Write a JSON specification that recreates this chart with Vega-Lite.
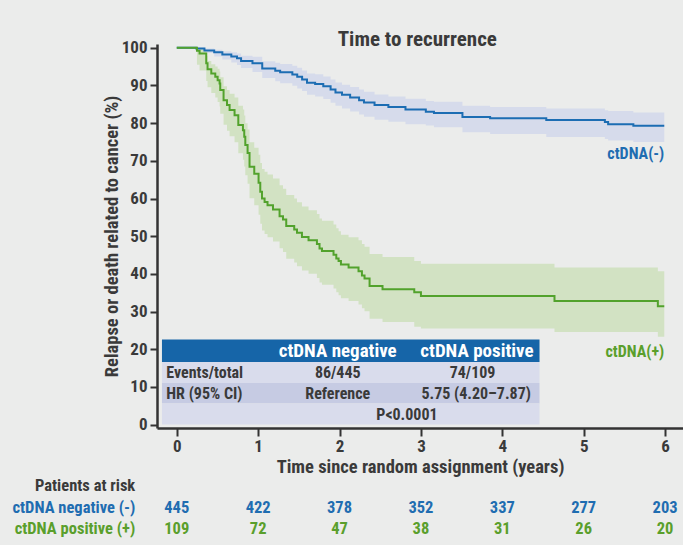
{
  "$schema": "https://vega.github.io/schema/vega-lite/v6.json",
  "width": 526,
  "height": 384,
  "autosize": {"type": "none"},
  "padding": {"left": 157, "top": 44, "right": 0, "bottom": 117},
  "background": "#ebeceb",
  "config": {
    "view": {"stroke": null},
    "font": "Roboto Condensed, Liberation Sans Narrow, DejaVu Sans Condensed, Roboto, sans-serif",
    "axis": {
      "grid": false,
      "domainColor": "#333333",
      "domainWidth": 2.5,
      "tickColor": "#333333",
      "tickWidth": 2,
      "labelFontSize": 17,
      "labelFontWeight": "bold",
      "labelColor": "#3a3a3a",
      "labelOverlap": false,
      "titleFontSize": 18.5,
      "titleFontWeight": "bold",
      "titleColor": "#3a3a3a"
    },
    "axisX": {"tickSize": 8, "labelPadding": 2, "titlePadding": 3, "tickCount": 7},
    "axisY": {"tickSize": 7, "labelPadding": 3, "titlePadding": 0, "tickCount": 11}
  },
  "datasets": {
    "km": [
      {"group": "neg", "t": 0, "v": 100, "lo": 100, "hi": 100},
      {"group": "neg", "t": 0.24, "v": 99.8, "lo": 99.3, "hi": 100},
      {"group": "neg", "t": 0.34, "v": 99.3, "lo": 98.6, "hi": 99.8},
      {"group": "neg", "t": 0.46, "v": 98.8, "lo": 97.7, "hi": 99.5},
      {"group": "neg", "t": 0.56, "v": 98.2, "lo": 96.9, "hi": 99.1},
      {"group": "neg", "t": 0.67, "v": 97.7, "lo": 96.1, "hi": 98.8},
      {"group": "neg", "t": 0.74, "v": 97.2, "lo": 95.4, "hi": 98.5},
      {"group": "neg", "t": 0.79, "v": 96.5, "lo": 94.6, "hi": 97.9},
      {"group": "neg", "t": 0.93, "v": 95.9, "lo": 93.6, "hi": 97.6},
      {"group": "neg", "t": 1.05, "v": 94.5, "lo": 92.0, "hi": 96.4},
      {"group": "neg", "t": 1.21, "v": 93.9, "lo": 91.1, "hi": 96.0},
      {"group": "neg", "t": 1.27, "v": 93.5, "lo": 90.6, "hi": 95.7},
      {"group": "neg", "t": 1.42, "v": 92.9, "lo": 89.9, "hi": 95.2},
      {"group": "neg", "t": 1.48, "v": 92.3, "lo": 89.2, "hi": 94.7},
      {"group": "neg", "t": 1.54, "v": 91.6, "lo": 88.5, "hi": 94.0},
      {"group": "neg", "t": 1.60, "v": 90.7, "lo": 87.5, "hi": 93.2},
      {"group": "neg", "t": 1.70, "v": 90.4, "lo": 87.1, "hi": 93.0},
      {"group": "neg", "t": 1.80, "v": 89.8, "lo": 86.4, "hi": 92.4},
      {"group": "neg", "t": 1.89, "v": 88.9, "lo": 85.4, "hi": 91.6},
      {"group": "neg", "t": 1.95, "v": 88.1, "lo": 84.6, "hi": 90.8},
      {"group": "neg", "t": 2.03, "v": 87.5, "lo": 83.9, "hi": 90.2},
      {"group": "neg", "t": 2.13, "v": 86.8, "lo": 83.1, "hi": 89.6},
      {"group": "neg", "t": 2.24, "v": 86.1, "lo": 82.3, "hi": 88.9},
      {"group": "neg", "t": 2.30, "v": 85.5, "lo": 81.7, "hi": 88.3},
      {"group": "neg", "t": 2.43, "v": 84.8, "lo": 80.9, "hi": 87.6},
      {"group": "neg", "t": 2.60, "v": 84.3, "lo": 80.4, "hi": 87.1},
      {"group": "neg", "t": 2.81, "v": 83.6, "lo": 79.7, "hi": 86.5},
      {"group": "neg", "t": 3.06, "v": 83.0, "lo": 79.4, "hi": 85.9},
      {"group": "neg", "t": 3.16, "v": 82.7, "lo": 78.9, "hi": 85.7},
      {"group": "neg", "t": 3.51, "v": 81.6, "lo": 77.6, "hi": 84.6},
      {"group": "neg", "t": 3.85, "v": 81.3, "lo": 77.1, "hi": 84.3},
      {"group": "neg", "t": 4.54, "v": 80.8, "lo": 76.3, "hi": 83.9},
      {"group": "neg", "t": 5.26, "v": 80.3, "lo": 75.8, "hi": 83.4},
      {"group": "neg", "t": 5.30, "v": 79.7, "lo": 75.4, "hi": 83.2},
      {"group": "neg", "t": 5.61, "v": 79.3, "lo": 75.0, "hi": 82.8},
      {"group": "neg", "t": 5.99, "v": 79.3, "lo": 75.0, "hi": 82.8},
      {"group": "pos", "t": 0, "v": 100, "lo": 100, "hi": 100},
      {"group": "pos", "t": 0.248, "v": 99.2, "lo": 95.5, "hi": 99.9},
      {"group": "pos", "t": 0.28, "v": 98.5, "lo": 94.0, "hi": 99.6},
      {"group": "pos", "t": 0.362, "v": 95.9, "lo": 91.2, "hi": 97.8},
      {"group": "pos", "t": 0.378, "v": 94.3, "lo": 89.5, "hi": 96.5},
      {"group": "pos", "t": 0.424, "v": 93.2, "lo": 88.0, "hi": 95.6},
      {"group": "pos", "t": 0.473, "v": 92.3, "lo": 86.8, "hi": 95.0},
      {"group": "pos", "t": 0.502, "v": 91.4, "lo": 85.6, "hi": 94.4},
      {"group": "pos", "t": 0.526, "v": 90.5, "lo": 84.4, "hi": 93.7},
      {"group": "pos", "t": 0.534, "v": 88.8, "lo": 82.5, "hi": 92.2},
      {"group": "pos", "t": 0.575, "v": 86.1, "lo": 79.6, "hi": 89.8},
      {"group": "pos", "t": 0.617, "v": 84.8, "lo": 78.0, "hi": 88.8},
      {"group": "pos", "t": 0.649, "v": 83.5, "lo": 76.5, "hi": 87.8},
      {"group": "pos", "t": 0.71, "v": 82.1, "lo": 74.9, "hi": 86.8},
      {"group": "pos", "t": 0.756, "v": 79.5, "lo": 72.0, "hi": 84.6},
      {"group": "pos", "t": 0.813, "v": 78.1, "lo": 70.3, "hi": 83.6},
      {"group": "pos", "t": 0.829, "v": 76.4, "lo": 68.5, "hi": 82.0},
      {"group": "pos", "t": 0.842, "v": 74.2, "lo": 66.2, "hi": 80.0},
      {"group": "pos", "t": 0.870, "v": 72.1, "lo": 63.9, "hi": 78.3},
      {"group": "pos", "t": 0.894, "v": 68.4, "lo": 60.1, "hi": 74.9},
      {"group": "pos", "t": 0.952, "v": 66.6, "lo": 58.2, "hi": 73.5},
      {"group": "pos", "t": 1.005, "v": 64.2, "lo": 55.7, "hi": 71.6},
      {"group": "pos", "t": 1.026, "v": 61.8, "lo": 53.3, "hi": 69.4},
      {"group": "pos", "t": 1.047, "v": 60.0, "lo": 51.5, "hi": 67.8},
      {"group": "pos", "t": 1.079, "v": 59.1, "lo": 50.6, "hi": 67.1},
      {"group": "pos", "t": 1.115, "v": 58.2, "lo": 49.7, "hi": 66.4},
      {"group": "pos", "t": 1.182, "v": 57.1, "lo": 48.6, "hi": 65.3},
      {"group": "pos", "t": 1.263, "v": 55.3, "lo": 46.8, "hi": 63.5},
      {"group": "pos", "t": 1.305, "v": 54.4, "lo": 45.8, "hi": 62.6},
      {"group": "pos", "t": 1.345, "v": 52.7, "lo": 44.0, "hi": 60.9},
      {"group": "pos", "t": 1.443, "v": 51.8, "lo": 43.0, "hi": 60.0},
      {"group": "pos", "t": 1.477, "v": 50.9, "lo": 42.0, "hi": 59.0},
      {"group": "pos", "t": 1.538, "v": 49.8, "lo": 40.9, "hi": 57.9},
      {"group": "pos", "t": 1.619, "v": 48.9, "lo": 40.0, "hi": 56.9},
      {"group": "pos", "t": 1.722, "v": 47.9, "lo": 38.9, "hi": 55.9},
      {"group": "pos", "t": 1.754, "v": 46.7, "lo": 37.7, "hi": 54.7},
      {"group": "pos", "t": 1.784, "v": 46.1, "lo": 37.1, "hi": 54.1},
      {"group": "pos", "t": 1.926, "v": 45.1, "lo": 36.1, "hi": 53.1},
      {"group": "pos", "t": 1.960, "v": 44.1, "lo": 35.1, "hi": 52.1},
      {"group": "pos", "t": 1.988, "v": 43.4, "lo": 34.3, "hi": 51.3},
      {"group": "pos", "t": 2.017, "v": 42.5, "lo": 33.5, "hi": 50.4},
      {"group": "pos", "t": 2.111, "v": 41.7, "lo": 32.8, "hi": 49.7},
      {"group": "pos", "t": 2.233, "v": 40.7, "lo": 31.9, "hi": 48.9},
      {"group": "pos", "t": 2.275, "v": 39.6, "lo": 30.9, "hi": 47.9},
      {"group": "pos", "t": 2.307, "v": 38.8, "lo": 30.1, "hi": 47.2},
      {"group": "pos", "t": 2.369, "v": 36.8, "lo": 28.1, "hi": 45.3},
      {"group": "pos", "t": 2.528, "v": 35.9, "lo": 27.2, "hi": 44.5},
      {"group": "pos", "t": 2.918, "v": 35.1, "lo": 26.0, "hi": 43.4},
      {"group": "pos", "t": 3.0, "v": 34.1, "lo": 25.5, "hi": 42.7},
      {"group": "pos", "t": 4.641, "v": 32.8, "lo": 24.6, "hi": 41.7},
      {"group": "pos", "t": 5.911, "v": 31.4, "lo": 23.3, "hi": 40.7},
      {"group": "pos", "t": 5.99, "v": 31.4, "lo": 23.3, "hi": 40.7}
    ],
    "risk": [
      {"group": "neg", "t": 0, "n": 445},
      {"group": "neg", "t": 1, "n": 422},
      {"group": "neg", "t": 2, "n": 378},
      {"group": "neg", "t": 3, "n": 352},
      {"group": "neg", "t": 4, "n": 337},
      {"group": "neg", "t": 5, "n": 277},
      {"group": "neg", "t": 6, "n": 203},
      {"group": "pos", "t": 0, "n": 109},
      {"group": "pos", "t": 1, "n": 72},
      {"group": "pos", "t": 2, "n": 47},
      {"group": "pos", "t": 3, "n": 38},
      {"group": "pos", "t": 4, "n": 31},
      {"group": "pos", "t": 5, "n": 26},
      {"group": "pos", "t": 6, "n": 20}
    ]
  },
  "layer": [
    {
      "data": {"name": "km"},
      "mark": {"type": "area", "interpolate": "step-after", "opacity": 1},
      "encoding": {
        "x": {"field": "t", "type": "quantitative", "title": "Time since random assignment (years)",
              "scale": {"domain": [-0.243, 6.22], "nice": false, "zero": false},
              "axis": {"values": [0, 1, 2, 3, 4, 5, 6], "format": "d"}},
        "y": {"field": "hi", "type": "quantitative", "title": "Relapse or death related to cancer (%)",
              "scale": {"domain": [-0.9, 101], "nice": false, "zero": false},
              "axis": {"values": [0, 10, 20, 30, 40, 50, 60, 70, 80, 90, 100], "tickCount": 11, "labelOverlap": false}},
        "y2": {"field": "lo"},
        "fill": {"field": "group", "type": "nominal", "legend": null,
                 "scale": {"domain": ["neg", "pos"], "range": ["#d6dbeb", "#d2e2c3"]}}
      }
    },
    {
      "data": {"name": "km"},
      "mark": {"type": "line", "interpolate": "step-after", "strokeWidth": 2},
      "encoding": {
        "x": {"field": "t", "type": "quantitative", "title": "Time since random assignment (years)",
              "axis": {"values": [0, 1, 2, 3, 4, 5, 6], "format": "d"}},
        "y": {"field": "v", "type": "quantitative", "title": "Relapse or death related to cancer (%)",
              "axis": {"values": [0, 10, 20, 30, 40, 50, 60, 70, 80, 90, 100], "tickCount": 11, "labelOverlap": false}},
        "color": {"field": "group", "type": "nominal", "legend": null,
                  "scale": {"domain": ["neg", "pos"], "range": ["#1c6db3", "#52a22c"]}}
      }
    },
    {
      "data": {"values": [{"label": "Time to recurrence"}]},
      "mark": {"type": "text", "fontSize": 21, "fontWeight": "bold", "color": "#3a3a3a", "align": "center", "baseline": "alphabetic"},
      "encoding": {"x": {"datum": 2.955}, "y": {"datum": 100.45}, "text": {"field": "label"}}
    },
    {
      "data": {"values": [{"label": "ctDNA(-)"}]},
      "mark": {"type": "text", "fontSize": 16, "fontWeight": "bold", "color": "#1f6db1", "align": "right", "baseline": "middle"},
      "encoding": {"x": {"datum": 5.99}, "y": {"datum": 71.8}, "text": {"field": "label"}}
    },
    {
      "data": {"values": [{"label": "ctDNA(+)"}]},
      "mark": {"type": "text", "fontSize": 16, "fontWeight": "bold", "color": "#5a9f2c", "align": "right", "baseline": "middle"},
      "encoding": {"x": {"datum": 5.99}, "y": {"datum": 19.2}, "text": {"field": "label"}}
    },
    {
      "data": {"values": [{}]},
      "mark": {"type": "rect", "color": "#1665a8"},
      "encoding": {"x": {"datum": -0.182}, "x2": {"datum": 4.457}, "y": {"datum": 22.57}, "y2": {"datum": 16.62}}
    },
    {
      "data": {"values": [{}]},
      "mark": {"type": "rect", "color": "#d9dcec"},
      "encoding": {"x": {"datum": -0.182}, "x2": {"datum": 4.457}, "y": {"datum": 16.62}, "y2": {"datum": 11.05}}
    },
    {
      "data": {"values": [{}]},
      "mark": {"type": "rect", "color": "#c6cbe3"},
      "encoding": {"x": {"datum": -0.182}, "x2": {"datum": 4.457}, "y": {"datum": 11.05}, "y2": {"datum": 5.58}}
    },
    {
      "data": {"values": [{}]},
      "mark": {"type": "rect", "color": "#d9dcec"},
      "encoding": {"x": {"datum": -0.182}, "x2": {"datum": 4.457}, "y": {"datum": 5.58}, "y2": {"datum": 0.0}}
    },
    {
      "data": {"values": [{"a": "ctDNA negative", "b": "ctDNA positive"}]},
      "layer": [
        {"mark": {"type": "text", "fontSize": 19, "fontWeight": "bold", "color": "white", "align": "center", "baseline": "middle"},
         "encoding": {"x": {"datum": 1.978}, "y": {"datum": 19.54}, "text": {"field": "a"}}},
        {"mark": {"type": "text", "fontSize": 19, "fontWeight": "bold", "color": "white", "align": "center", "baseline": "middle"},
         "encoding": {"x": {"datum": 3.688}, "y": {"datum": 19.54}, "text": {"field": "b"}}}
      ]
    },
    {
      "data": {"values": [{"row": "Events/total", "neg": "86/445", "pos": "74/109"}]},
      "layer": [
        {"mark": {"type": "text", "fontSize": 16, "fontWeight": "bold", "color": "#3a3a3a", "align": "left", "baseline": "middle"},
         "encoding": {"x": {"datum": -0.129}, "y": {"datum": 13.81}, "text": {"field": "row"}}},
        {"mark": {"type": "text", "fontSize": 16, "fontWeight": "bold", "color": "#3a3a3a", "align": "center", "baseline": "middle"},
         "encoding": {"x": {"datum": 1.978}, "y": {"datum": 13.81}, "text": {"field": "neg"}}},
        {"mark": {"type": "text", "fontSize": 16, "fontWeight": "bold", "color": "#3a3a3a", "align": "center", "baseline": "middle"},
         "encoding": {"x": {"datum": 3.634}, "y": {"datum": 13.81}, "text": {"field": "pos"}}}
      ]
    },
    {
      "data": {"values": [{"row": "HR (95% CI)", "neg": "Reference", "pos": "5.75 (4.20–7.87)"}]},
      "layer": [
        {"mark": {"type": "text", "fontSize": 16, "fontWeight": "bold", "color": "#3a3a3a", "align": "left", "baseline": "middle"},
         "encoding": {"x": {"datum": -0.129}, "y": {"datum": 8.23}, "text": {"field": "row"}}},
        {"mark": {"type": "text", "fontSize": 16, "fontWeight": "bold", "color": "#3a3a3a", "align": "center", "baseline": "middle"},
         "encoding": {"x": {"datum": 1.978}, "y": {"datum": 8.23}, "text": {"field": "neg"}}},
        {"mark": {"type": "text", "fontSize": 16, "fontWeight": "bold", "color": "#3a3a3a", "align": "center", "baseline": "middle"},
         "encoding": {"x": {"datum": 3.679}, "y": {"datum": 8.23}, "text": {"field": "pos"}}}
      ]
    },
    {
      "data": {"values": [{"p": "P<0.0001"}]},
      "mark": {"type": "text", "fontSize": 16, "fontWeight": "bold", "color": "#3a3a3a", "align": "center", "baseline": "middle"},
      "encoding": {"x": {"datum": 2.828}, "y": {"datum": 2.47}, "text": {"field": "p"}}
    },
    {
      "data": {"values": [{"a": "Patients at risk", "b": "ctDNA negative (-)", "c": "ctDNA positive (+)"}]},
      "layer": [
        {"mark": {"type": "text", "fontSize": 16.5, "fontWeight": "bold", "color": "#3a3a3a", "align": "right", "baseline": "middle"},
         "encoding": {"x": {"datum": -0.51}, "y": {"datum": -16.4}, "text": {"field": "a"}}},
        {"mark": {"type": "text", "fontSize": 16.5, "fontWeight": "bold", "color": "#1f6db1", "align": "right", "baseline": "middle"},
         "encoding": {"x": {"datum": -0.51}, "y": {"datum": -22.2}, "text": {"field": "b"}}},
        {"mark": {"type": "text", "fontSize": 16.5, "fontWeight": "bold", "color": "#5a9f2c", "align": "right", "baseline": "middle"},
         "encoding": {"x": {"datum": -0.51}, "y": {"datum": -27.8}, "text": {"field": "c"}}}
      ]
    },
    {
      "data": {"name": "risk"},
      "transform": [{"filter": "datum.group === 'neg'"}],
      "mark": {"type": "text", "fontSize": 16.5, "fontWeight": "bold", "color": "#1f6db1", "align": "center", "baseline": "middle"},
      "encoding": {"x": {"field": "t", "type": "quantitative", "title": "Time since random assignment (years)"}, "y": {"datum": -22.2}, "text": {"field": "n", "type": "quantitative"}}
    },
    {
      "data": {"name": "risk"},
      "transform": [{"filter": "datum.group === 'pos'"}],
      "mark": {"type": "text", "fontSize": 16.5, "fontWeight": "bold", "color": "#5a9f2c", "align": "center", "baseline": "middle"},
      "encoding": {"x": {"field": "t", "type": "quantitative", "title": "Time since random assignment (years)"}, "y": {"datum": -27.8}, "text": {"field": "n", "type": "quantitative"}}
    }
  ]
}
